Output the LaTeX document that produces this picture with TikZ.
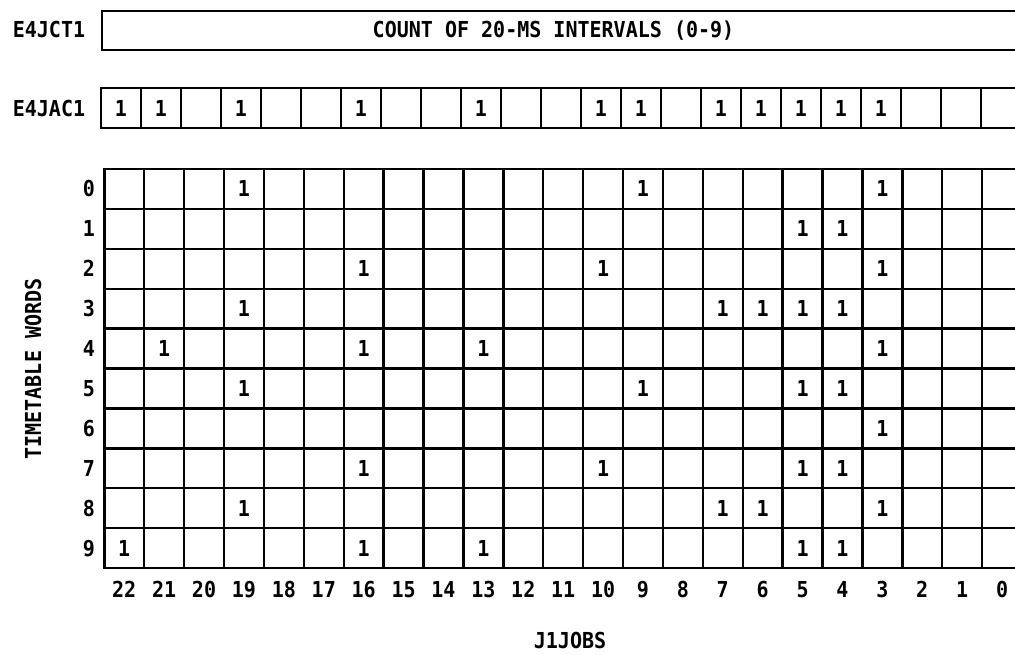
\documentclass[tikz,border=0pt]{standalone}
\usepackage{fontspec}
\newfontfamily\plotfont{DejaVu Sans Mono}[FakeStretch=0.91]
\begin{document}
\begin{tikzpicture}[x=1pt,y=-1pt,
  txt/.style={font=\plotfont\bfseries\fontsize{22}{26}\selectfont, inner sep=0pt, text=black, text height=16pt, text depth=0pt},
  box/.style={draw=black, line width=2.4pt, inner sep=0pt},
  cell/.style={box, minimum width=39.9pt, minimum height=39.9pt},
  acell/.style={box, minimum width=40pt, minimum height=40pt},
]
\useasboundingbox (0,0) rectangle (1015,654);
\clip (0,0) rectangle (1015,654);
\fill[white] (0,0) rectangle (1015,654);

% E4JCT1 field
\node[box, anchor=north west, minimum width=930pt, minimum height=39pt] (ct) at (101,10) {};
\node[txt] (title) at (553.5,29.5) {COUNT OF 20-MS INTERVALS (0-9)};
\node[txt] (lct) at (49,29) {E4JCT1};

% E4JAC1 field
\node[txt] (lac) at (49,108.5) {E4JAC1};
\foreach \c in {0,...,22} {
  \node[acell] (a-\c) at ({121+40*(22-\c)},108) {};
}
\foreach \c in {22,21,19,16,13,10,9,7,6,5,4,3} {
  \node[txt] (av-\c) at (a-\c.center) {1};
}

% timetable grid
\foreach \r in {0,...,9} {
  \foreach \c in {0,...,22} {
    \node[cell] (g-\r-\c) at ({124.25+39.9*(22-\c)},{188.95+39.9*\r}) {};
  }
  \node[txt] (rl-\r) at (89,{188.95+39.9*\r}) {\r};
}
\foreach \c in {0,...,22} {
  \node[txt] (cl-\c) at ({124.25+39.9*(22-\c)},589) {\c};
}
\foreach \r/\c in {0/19,0/9,0/3,
                   1/5,1/4,
                   2/16,2/10,2/3,
                   3/19,3/7,3/6,3/5,3/4,
                   4/21,4/16,4/13,4/3,
                   5/19,5/9,5/5,5/4,
                   6/3,
                   7/16,7/10,7/5,7/4,
                   8/19,8/7,8/6,8/3,
                   9/22,9/16,9/13,9/5,9/4} {
  \node[txt] (v-\r-\c) at (g-\r-\c.center) {1};
}

\node[txt, rotate=90] (yl) at (33,369) {TIMETABLE WORDS};
\node[txt] (xl) at (570,640) {J1JOBS};
\end{tikzpicture}
\end{document}
